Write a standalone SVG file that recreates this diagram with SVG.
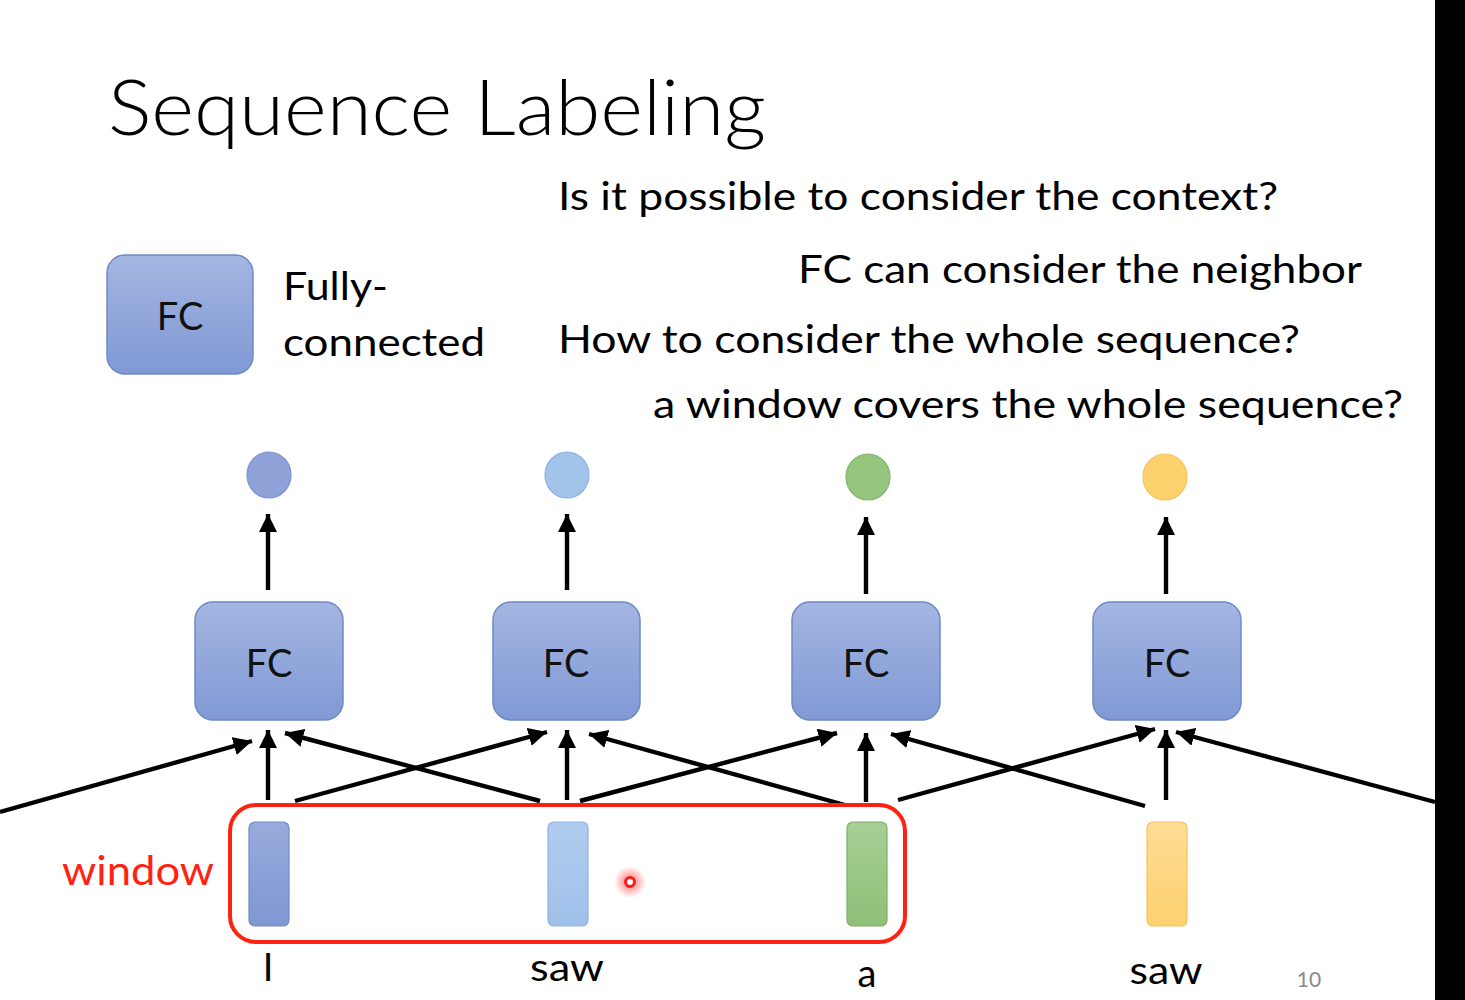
<svg xmlns="http://www.w3.org/2000/svg" width="1465" height="1000" viewBox="0 0 1465 1000">
  <defs>
    <linearGradient id="gBox" x1="0" y1="0" x2="0" y2="1">
      <stop offset="0" stop-color="#a4b6e1"/>
      <stop offset="1" stop-color="#8099d5"/>
    </linearGradient>
    <linearGradient id="gBlue" x1="0" y1="0" x2="0" y2="1">
      <stop offset="0" stop-color="#98abdc"/>
      <stop offset="1" stop-color="#7f97d2"/>
    </linearGradient>
    <linearGradient id="gLight" x1="0" y1="0" x2="0" y2="1">
      <stop offset="0" stop-color="#b0cdef"/>
      <stop offset="1" stop-color="#9fc0e9"/>
    </linearGradient>
    <linearGradient id="gGreen" x1="0" y1="0" x2="0" y2="1">
      <stop offset="0" stop-color="#a6cf95"/>
      <stop offset="1" stop-color="#8fbf78"/>
    </linearGradient>
    <linearGradient id="gYellow" x1="0" y1="0" x2="0" y2="1">
      <stop offset="0" stop-color="#fedd94"/>
      <stop offset="1" stop-color="#fdd071"/>
    </linearGradient>
    <radialGradient id="gGlow">
      <stop offset="0" stop-color="#ff3030" stop-opacity="0.7"/>
      <stop offset="1" stop-color="#ff3030" stop-opacity="0"/>
    </radialGradient>
    <marker id="ah" viewBox="0 0 10 10" refX="10" refY="5" markerWidth="4.2" markerHeight="4.2" orient="auto" markerUnits="strokeWidth">
      <path d="M0,0 L10,5 L0,10 z" fill="#000"/>
    </marker>
    <style>
      text { font-family: Lato, "Liberation Sans", sans-serif; fill: #000; }
      .t { font-size: 38px; }
      .fc { font-size: 38px; text-anchor: middle; fill: #111; }
      .box { fill: url(#gBox); stroke: #6f89c6; stroke-width: 1.5; }
      .arr { stroke: #000; stroke-width: 4.4; fill: none; marker-end: url(#ah); }
      .vec { stroke-width: 1.2; }
    </style>
  </defs>

  <rect x="0" y="0" width="1465" height="1000" fill="#ffffff"/>

  <g id="title">
    <text x="108" y="135" font-size="76" font-weight="300" textLength="658" lengthAdjust="spacingAndGlyphs">Sequence Labeling</text>
  </g>

  <g id="questions">
    <text class="t" x="558" y="210" textLength="720" lengthAdjust="spacingAndGlyphs">Is it possible to consider the context?</text>
    <text class="t" x="798" y="283" textLength="564" lengthAdjust="spacingAndGlyphs">FC can consider the neighbor</text>
    <text class="t" x="558" y="353" textLength="742" lengthAdjust="spacingAndGlyphs">How to consider the whole sequence?</text>
    <text class="t" x="653" y="418" textLength="750" lengthAdjust="spacingAndGlyphs">a window covers the whole sequence?</text>
  </g>

  <g id="legend">
    <rect class="box" x="107" y="255" width="146" height="119" rx="18"/>
    <text class="fc" x="180" y="330">FC</text>
    <text class="t" x="283" y="300" textLength="105" lengthAdjust="spacingAndGlyphs">Fully-</text>
    <text class="t" x="283" y="356" textLength="202" lengthAdjust="spacingAndGlyphs">connected</text>
  </g>

  <g id="outputs">
    <ellipse cx="269" cy="475" rx="22" ry="23" fill="#8ea2d8" stroke="#7a92cf" stroke-width="1.2"/>
    <ellipse cx="567" cy="475" rx="22" ry="23" fill="#a2c3ea" stroke="#8fb3e0" stroke-width="1.2"/>
    <ellipse cx="868" cy="477" rx="22" ry="23" fill="#95c47f" stroke="#84b46d" stroke-width="1.2"/>
    <ellipse cx="1165" cy="477" rx="22" ry="23" fill="#fdd16c" stroke="#f3c35a" stroke-width="1.2"/>
  </g>

  <g id="fc1"><rect class="box" x="195" y="602" width="148" height="118" rx="18"/><text class="fc" x="269" y="677">FC</text></g>
  <g id="fc2"><rect class="box" x="493" y="602" width="147" height="118" rx="18"/><text class="fc" x="566" y="677">FC</text></g>
  <g id="fc3"><rect class="box" x="792" y="602" width="148" height="118" rx="18"/><text class="fc" x="866" y="677">FC</text></g>
  <g id="fc4"><rect class="box" x="1093" y="602" width="148" height="118" rx="18"/><text class="fc" x="1167" y="677">FC</text></g>

  <g id="inputs">
    <rect class="vec" x="249" y="822" width="40" height="104" rx="6" fill="url(#gBlue)" stroke="#7089c6"/>
    <rect class="vec" x="548" y="822" width="40" height="104" rx="6" fill="url(#gLight)" stroke="#8fb3e0"/>
    <rect class="vec" x="847" y="822" width="40" height="104" rx="6" fill="url(#gGreen)" stroke="#7fae68"/>
    <rect class="vec" x="1147" y="822" width="40" height="104" rx="6" fill="url(#gYellow)" stroke="#f3c35a"/>
  </g>

  <g id="words">
    <text class="t" x="268" y="981" text-anchor="middle">I</text>
    <text class="t" x="567" y="981" text-anchor="middle" textLength="74" lengthAdjust="spacingAndGlyphs">saw</text>
    <text class="t" x="867" y="987" text-anchor="middle">a</text>
    <text class="t" x="1166" y="984" text-anchor="middle" textLength="73" lengthAdjust="spacingAndGlyphs">saw</text>
    <text x="1309" y="987" font-size="21" text-anchor="middle" style="fill:#8a8a8a">10</text>
  </g>

  <g id="connectors">
    <line class="arr" x1="268" y1="590" x2="268" y2="514"/>
    <line class="arr" x1="567" y1="590" x2="567" y2="514"/>
    <line class="arr" x1="866" y1="594" x2="866" y2="517"/>
    <line class="arr" x1="1166" y1="594" x2="1166" y2="517"/>

    <line class="arr" x1="0" y1="812" x2="252" y2="741"/>
    <line class="arr" x1="268" y1="800" x2="268" y2="730"/>
    <line class="arr" x1="540" y1="801" x2="285" y2="733"/>

    <line class="arr" x1="295" y1="801" x2="547" y2="732"/>
    <line class="arr" x1="567" y1="800" x2="567" y2="730"/>
    <line class="arr" x1="845" y1="805" x2="589" y2="734"/>

    <line class="arr" x1="580" y1="801" x2="837" y2="733"/>
    <line class="arr" x1="866" y1="802" x2="866" y2="733"/>
    <line class="arr" x1="1145" y1="806" x2="891" y2="734"/>

    <line class="arr" x1="898" y1="800" x2="1155" y2="729"/>
    <line class="arr" x1="1166" y1="800" x2="1166" y2="730"/>
    <line class="arr" x1="1435" y1="802" x2="1176" y2="732"/>
  </g>

  <g id="window">
    <rect x="230" y="805" width="675" height="137" rx="26" fill="none" stroke="#ff2211" stroke-width="4"/>
    <text x="62" y="885" font-size="40" style="fill:#ff2211" textLength="152" lengthAdjust="spacingAndGlyphs">window</text>
  </g>

  <g id="pointer">
    <circle cx="630" cy="882" r="16" fill="url(#gGlow)"/>
    <circle cx="630" cy="882" r="4.5" fill="#fff" stroke="#ff1a1a" stroke-width="3"/>
  </g>

  <rect x="1435" y="0" width="30" height="1000" fill="#000"/>
</svg>
